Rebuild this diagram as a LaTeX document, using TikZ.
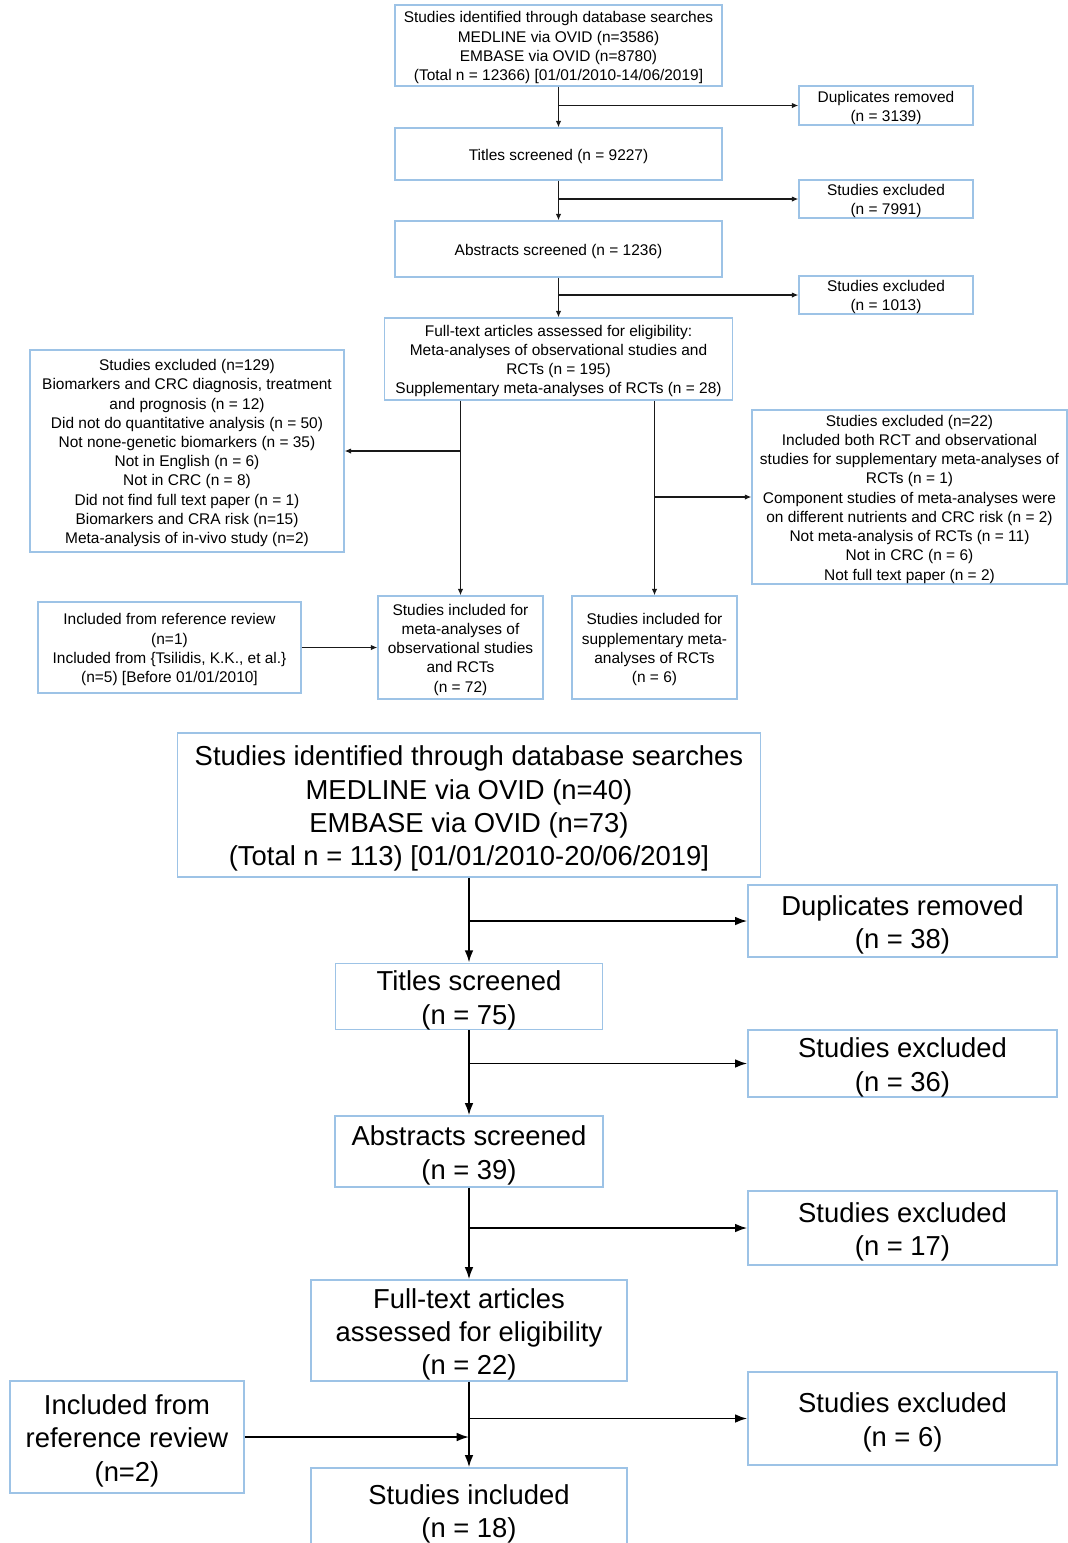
\documentclass[tikz,border=0pt]{standalone}
\usepackage{fontspec}
\setmainfont{Liberation Sans}
\usetikzlibrary{arrows.meta}
\usetikzlibrary{calc}
\tikzstyle{line} = [draw]
\definecolor{bordbleu}{RGB}{157,195,230}
\definecolor{traitnoir}{RGB}{25,25,25}
\newcommand{\hautl}{\rule{0pt}{1em}}

\begin{document}
\begin{tikzpicture}[x=0.02cm, y=-0.02cm,
				boite/.style = {draw=bordbleu, line width=0.8pt, align=center, inner sep=0pt},
				petit/.style = {boite, font=\fontsize{8.8}{10.95}\selectfont},
				grand/.style = {boite, font=\fontsize{15.6}{19}\selectfont},
				taille/.style 2 args = {minimum width=#1*0.02cm, minimum height=#2*0.02cm},
				fin/.style = {line, traitnoir, line width=0.6pt, -{Latex[length=3.6pt, width=3pt]}},
				epais/.style = {line, black, line width=1.1pt, -{Latex[length=7pt, width=5pt]}}]
				
				\useasboundingbox (0,0) rectangle (1068,1543);
				
				% First search
				\node[petit, taille={327}{81}] (S1) at (558.5,45.5) {\hautl Studies identified through database searches\\MEDLINE via OVID (n=3586)\\EMBASE via OVID (n=8780)\\(Total n = 12366) [01/01/2010-14/06/2019]};
				\node[petit, taille={174}{39}] (D1) at (886,105.5) {\hautl Duplicates removed\\(n = 3139)};
				\node[petit, taille={327}{52}] (T1) at (558.5,154) {\hautl Titles screened (n = 9227)};
				\node[petit, taille={174}{36}] (E1) at (886,199) {\hautl Studies excluded\\(n = 7991)};
				\node[petit, taille={327}{56}] (A1) at (558.5,249) {\hautl Abstracts screened (n = 1236)};
				\node[petit, taille={174}{38}] (E2) at (886,295) {\hautl Studies excluded\\(n = 1013)};
				\node[petit, taille={348}{82}] (F1) at (558.5,359) {\hautl Full-text articles assessed for eligibility:\\Meta-analyses of observational studies and\\RCTs (n = 195)\\Supplementary meta-analyses of RCTs (n = 28)};
				\node[petit, taille={314}{202}] (X1) at (187,451) {\hautl Studies excluded (n=129)\\Biomarkers and CRC diagnosis, treatment\\and prognosis (n = 12)\\Did not do quantitative analysis (n = 50)\\Not none-genetic biomarkers (n = 35)\\Not in English (n = 6)\\Not in CRC (n = 8)\\Did not find full text paper (n = 1)\\Biomarkers and CRA risk (n=15)\\Meta-analysis of in-vivo study (n=2)};
				\node[petit, taille={315}{174}] (X2) at (909.5,497) {\hautl Studies excluded (n=22)\\Included both RCT and observational\\studies for supplementary meta-analyses of\\RCTs (n = 1)\\Component studies of meta-analyses were\\on different nutrients and CRC risk (n = 2)\\Not meta-analysis of RCTs (n = 11)\\Not in CRC (n = 6)\\Not full text paper (n = 2)};
				\node[petit, taille={165}{103}] (I1) at (460.5,647.5) {\hautl Studies included for\\meta-analyses of\\observational studies\\and RCTs\\(n = 72)};
				\node[petit, taille={165}{103}] (I2) at (654.5,647.5) {\hautl Studies included for\\supplementary meta-\\analyses of RCTs\\(n = 6)};
				\node[petit, taille={263}{91}] (R1) at (169.5,647.5) {\hautl Included from reference review\\(n=1)\\Included from \{Tsilidis, K.K., et al.\}\\(n=5) [Before 01/01/2010]};
				
				% First search arrows
				\draw[fin] (S1) -- (T1);
				\draw[fin] (S1.south |- D1.west) -- (D1.west);
				\draw[fin] (T1) -- (A1);
				\draw[fin] (T1.south |- E1.west) -- (E1.west);
				\draw[fin] (A1) -- (F1);
				\draw[fin] (A1.south |- E2.west) -- (E2.west);
				\draw[fin] (F1.south -| I1.north) -- (I1.north);
				\draw[fin] (X1.east -| I1.north) -- (X1.east);
				\draw[fin] (F1.south -| I2.north) -- (I2.north);
				\draw[fin] (X2.west -| I2.north) -- (X2.west);
				\draw[fin] (R1) -- (I1);
				
				% Second search
				\node[grand, taille={583}{144}] (S2) at (469,805) {\hautl Studies identified through database searches\\MEDLINE via OVID (n=40)\\EMBASE via OVID (n=73)\\(Total n = 113) [01/01/2010-20/06/2019]};
				\node[grand, taille={309}{72}] (D2) at (902.5,921) {\hautl Duplicates removed\\(n = 38)};
				\node[grand, taille={267}{65}] (T2) at (469,996.5) {\hautl Titles screened\\(n = 75)};
				\node[grand, taille={309}{67}] (E3) at (902.5,1063.5) {\hautl Studies excluded\\(n = 36)};
				\node[grand, taille={268}{71}] (A2) at (469,1151.5) {\hautl Abstracts screened\\(n = 39)};
				\node[grand, taille={309}{74}] (E4) at (902.5,1228) {\hautl Studies excluded\\(n = 17)};
				\node[grand, taille={316}{101}] (F2) at (469,1330.5) {\hautl Full-text articles\\assessed for eligibility\\(n = 22)};
				\node[grand, taille={234}{112}] (R2) at (127,1437) {\hautl Included from\\reference review\\(n=2)};
				\node[grand, taille={309}{93}] (E5) at (902.5,1418.5) {\hautl Studies excluded\\(n = 6)};
				\node[grand, taille={316}{84}] (I3) at (469,1510) {\hautl Studies included\\(n = 18)};
				
				% Second search arrows
				\draw[epais] (S2) -- (T2);
				\draw[epais] (S2.south |- D2.west) -- (D2.west);
				\draw[epais] (T2) -- (A2);
				\draw[epais] (T2.south |- E3.west) -- (E3.west);
				\draw[epais] (A2) -- (F2);
				\draw[epais] (A2.south |- E4.west) -- (E4.west);
				\draw[epais] (F2) -- (I3);
				\draw[epais] (F2.south |- E5.west) -- (E5.west);
				\draw[epais] (R2.east) -- (R2.east -| F2.south);
				
\end{tikzpicture}
\end{document}
